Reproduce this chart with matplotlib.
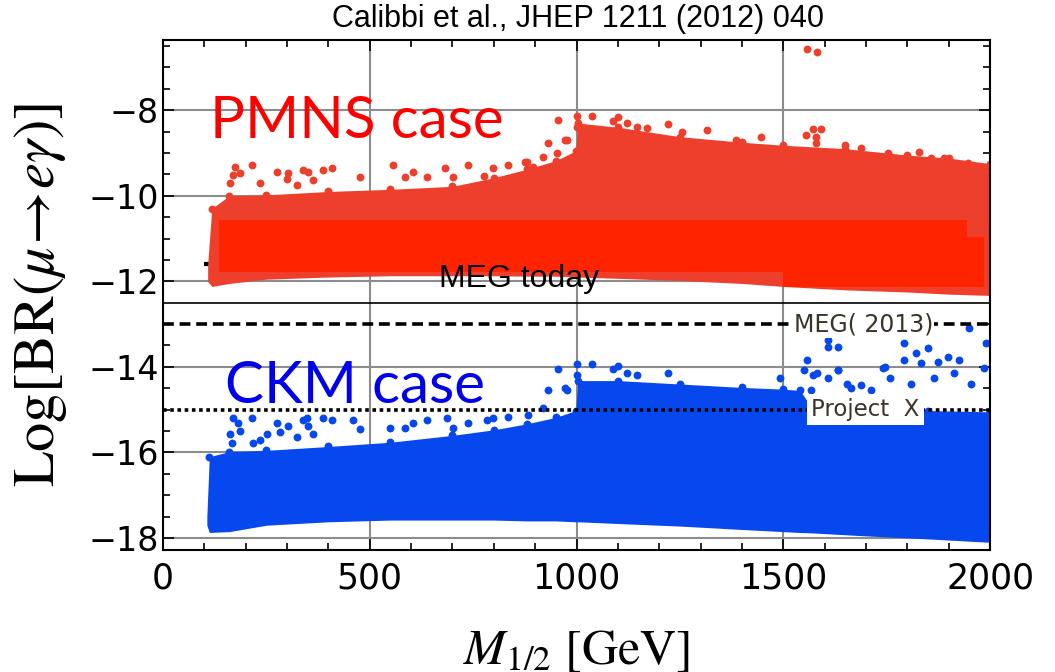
import numpy as np
import matplotlib
matplotlib.use("Agg")
import matplotlib.pyplot as plt
from matplotlib.ticker import MultipleLocator

plt.rcParams['font.family'] = ['DejaVu Sans']
plt.rcParams['mathtext.fontset'] = 'stix'

# PMNS cloud: dense band (upper / lower edge)
pmns_x = [108, 118, 160, 250, 400, 550, 700, 800, 880, 950, 998, 1003, 1100, 1250, 1400, 1500, 1650, 1800, 1900, 2000]
pmns_top = [-11.6, -10.3, -10.0, -9.98, -9.9, -9.85, -9.78, -9.58, -9.38, -9.18, -8.95, -8.3, -8.4, -8.62, -8.75, -8.82, -8.9, -9.05, -9.12, -9.25]
pmns_bot = [-12.0, -12.12, -12.05, -11.95, -11.9, -11.87, -11.87, -11.87, -11.88, -11.88, -11.9, -11.9, -11.93, -11.98, -12.05, -12.12, -12.2, -12.25, -12.3, -12.33]

# PMNS sparse points above the band
pmns_out_x = [174, 215, 170, 186, 162, 276, 303, 339, 351, 387, 409, 235, 324, 363, 300, 477, 557, 586, 605, 639,
              682, 702, 738, 799, 835, 881, 956, 932, 973, 953, 920, 895, 1002, 1002, 978, 1038, 1087, 1101, 1123, 1147,
              1220, 876, 775, 1171, 1256, 1316, 1385, 1445, 1558, 1582, 1554, 1571, 1592, 1578, 1578, 1650, 1687, 1752,
              1827, 1856, 1888, 1946, 1994]
pmns_out_y = [-9.33, -9.29, -9.52, -9.47, -9.71, -9.45, -9.47, -9.4, -9.45, -9.4, -9.36, -9.71, -9.75, -9.64, -9.6, -9.57, -9.29, -9.57, -9.45, -9.57,
              -9.36, -9.57, -9.29, -9.36, -9.29, -9.22, -8.23, -8.77, -8.7, -9.0, -9.1, -9.33, -8.14, -8.4, -8.7, -8.14, -8.26, -8.16, -8.3, -8.4,
              -8.33, -9.21, -9.55, -8.42, -8.51, -8.47, -8.7, -8.63, -6.57, -6.64, -8.58, -8.45, -8.45, -8.63, -8.77, -8.82, -8.89, -9.0,
              -8.98, -9.12, -9.12, -9.24, -9.33]

# bright red block pasted over the PMNS band
patch_x = [135, 1500, 1943, 1984]
patch_top = [-10.57, -10.57, -10.97, -10.97]
patch_bot = [-11.79, -12.14, -12.14, -12.14]

# CKM cloud
ckm_x = [106, 112, 160, 250, 400, 550, 700, 800, 880, 950, 998, 1003, 1100, 1250, 1400, 1500, 1540, 1570, 1700, 1850, 2000]
ckm_top = [-17.5, -16.1, -15.98, -15.95, -15.86, -15.76, -15.6, -15.47, -15.33, -15.18, -15.02, -14.32, -14.32, -14.4, -14.48, -14.52, -14.55, -14.97, -15.0, -15.02, -15.05]
ckm_bot = [-17.7, -17.87, -17.85, -17.7, -17.62, -17.58, -17.58, -17.58, -17.6, -17.6, -17.62, -17.62, -17.66, -17.72, -17.8, -17.85, -17.87, -17.88, -17.95, -18.02, -18.1]

ckm_out_x = [170, 182, 215, 162, 186, 167, 276, 303, 252, 283, 339, 351, 387, 409, 324, 363, 218, 235, 348, 460,
             477, 549, 586, 605, 639, 687, 702, 738, 799, 835, 883, 920, 932, 956, 973, 1002, 1002, 1038, 1087, 1101,
             1123, 1147, 1220, 978, 784, 1493, 1558, 1609, 1607, 1631, 1582, 1609, 1631, 1655, 1687, 1742, 1791, 1820,
             1849, 1791, 1832, 1873, 1897, 1924, 1948, 1989, 1984, 1912, 1864, 1953, 1808, 1759, 1566, 1549, 1571, 1633,
             1747, 1663, 1711]
ckm_out_y = [-15.2, -15.32, -15.2, -15.56, -15.49, -15.77, -15.3, -15.37, -15.56, -15.53, -15.25, -15.37, -15.2, -15.25, -15.65, -15.56, -15.77, -15.72, -15.2, -15.25,
             -15.44, -15.42, -15.42, -15.3, -15.25, -15.2, -15.42, -15.32, -15.2, -15.16, -15.13, -14.97, -14.55, -14.05, -14.5, -13.93, -14.2, -13.94, -14.04, -13.99,
             -14.15, -14.2, -14.15, -14.55, -15.25, -14.25, -13.85, -13.38, -13.54, -13.54, -14.15, -14.27, -14.08, -14.39, -14.43, -14.02, -13.43, -13.68,
             -13.57, -13.85, -13.92, -13.89, -13.78, -13.85, -13.08, -13.45, -14.02, -14.15, -14.25, -14.39, -14.39, -14.25, -14.55, -14.08, -14.2, -14.08,
             -14.0, -14.5, -14.55]

meg_old = -11.6
meg_today = -12.5
meg_2013 = -13.0
project_x = -15.0

red_cloud = '#ee3f2c'
red_patch = '#ff2400'
blue_cloud = '#0648ee'

fig = plt.figure(figsize=(10.55, 6.72), dpi=100)
ax = fig.add_axes([0.1545, 0.1815, 0.7840, 0.7590])

ax.grid(True, which='major', color='#8c8c8c', lw=1.5, zorder=0)

# old MEG bound, mostly hidden by the points
ax.hlines(meg_old, 100, 2000, color='black', lw=3, zorder=1)

ax.fill_between(pmns_x, pmns_bot, pmns_top, color=red_cloud, lw=0, zorder=2)
ax.scatter(pmns_x[1:], pmns_top[1:], s=32, color=red_cloud, lw=0, zorder=2)
ax.scatter(pmns_out_x, pmns_out_y, s=32, color=red_cloud, lw=0, zorder=2)
ax.fill_between(patch_x, patch_bot, patch_top, step='post', color=red_patch, lw=0, zorder=3)

ax.fill_between(ckm_x, ckm_bot, ckm_top, color=blue_cloud, lw=0, zorder=2)
ax.scatter(ckm_x[1:], ckm_top[1:], s=32, color=blue_cloud, lw=0, zorder=2)
ax.scatter(ckm_out_x, ckm_out_y, s=32, color=blue_cloud, lw=0, zorder=2)

ax.hlines(meg_today, 17, 1982, color='black', lw=1.2, zorder=4)
ax.axhline(meg_2013, color='black', lw=2.6, ls=(0, (3, 1.6)), zorder=4)
ax.axhline(project_x, color='black', lw=2.6, ls=(0, (1, 1)), zorder=4)

ax.text(668, -12.14, 'MEG today', fontsize=23, family='Liberation Sans', color='black', zorder=5)
ax.text(1525, meg_2013, 'MEG( 2013)', fontsize=17, color='#3a3328', va='center', zorder=5,
        bbox=dict(facecolor='white', edgecolor='none', pad=1))
ax.text(1568, project_x, 'Project  X', fontsize=16.5, color='#3a3328', va='center', zorder=5,
        bbox=dict(facecolor='white', edgecolor='none', pad=3))

ax.text(114, -8.65, 'PMNS case', fontsize=42, family='Lato', color='#ff0000', zorder=5)
ax.text(150, -14.85, 'CKM case', fontsize=42, family='Lato', color='#0000ee', zorder=5)

ax.set_xlim(0, 2000)
ax.set_ylim(-18.28, -6.36)
ax.xaxis.set_major_locator(MultipleLocator(500))
ax.xaxis.set_minor_locator(MultipleLocator(100))
ax.yaxis.set_major_locator(MultipleLocator(2))
ax.yaxis.set_minor_locator(MultipleLocator(0.5))
ax.tick_params(which='both', direction='in', top=True, right=True, width=1.2, labelsize=25)
ax.tick_params(axis='y', labelsize=24)
ax.tick_params(which='major', length=8)
ax.tick_params(which='minor', length=5)
ax.tick_params(axis='x', pad=8)
ax.tick_params(axis='y', pad=3)
for s in ax.spines.values():
    s.set_linewidth(1.5)

ax.set_xlabel(r'$M_{1/2}\ [\mathrm{GeV}]$', fontsize=36, labelpad=22)
ax.set_ylabel(r'$\mathrm{Log}[\mathrm{BR}(\mu\!\rightarrow\!e\gamma)]$', fontsize=42, labelpad=14)

fig.text(0.548, 0.972, 'Calibbi et al., JHEP 1211 (2012) 040', fontsize=22, family='Liberation Sans',
         ha='center', va='center')

fig.savefig('out.png', dpi=100)
